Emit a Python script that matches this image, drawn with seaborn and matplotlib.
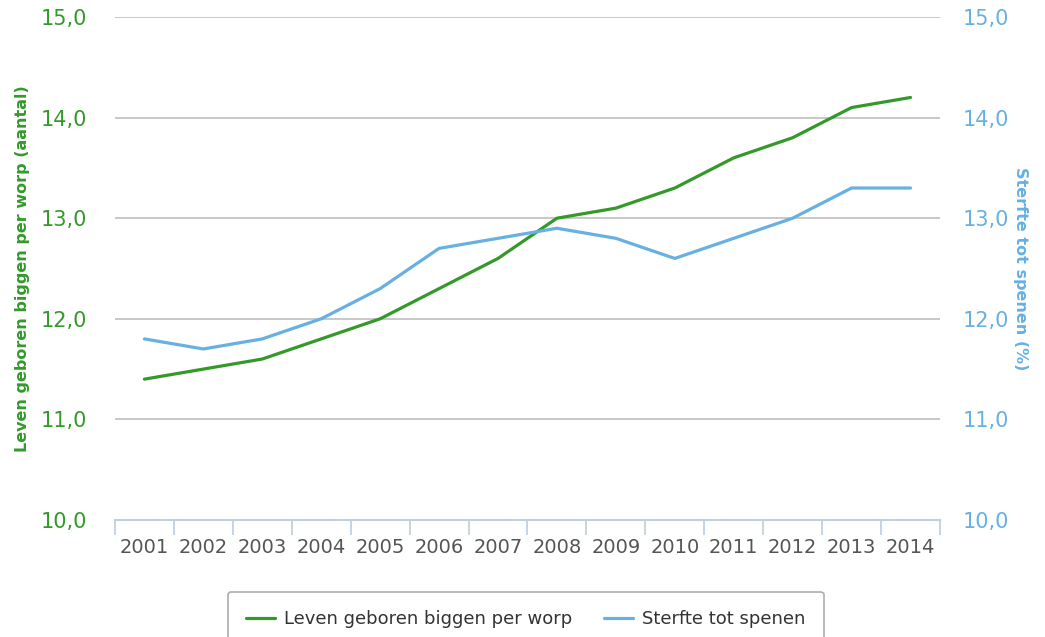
import numpy as np
import pandas as pd
import matplotlib
matplotlib.use("Agg")
import matplotlib.pyplot as plt
import seaborn as sns
from matplotlib.ticker import FixedLocator, FuncFormatter

# Data
years = ["2001", "2002", "2003", "2004", "2005", "2006", "2007",
         "2008", "2009", "2010", "2011", "2012", "2013", "2014"]
levend_geboren = [11.4, 11.5, 11.6, 11.8, 12.0, 12.3, 12.6,
                  13.0, 13.1, 13.3, 13.6, 13.8, 14.1, 14.2]
sterfte_spenen = [11.8, 11.7, 11.8, 12.0, 12.3, 12.7, 12.8,
                  12.9, 12.8, 12.6, 12.8, 13.0, 13.3, 13.3]

green = "#339a2a"
blue = "#66b0e2"
axis_blue = "#c0d0e0"

sns.set_style("white")
plt.rcParams['font.family'] = ['DejaVu Sans']

df = pd.DataFrame({"jaar": years, "levend": levend_geboren, "sterfte": sterfte_spenen})

fig = plt.figure(figsize=(10.45, 6.37), dpi=100)
ax = fig.add_axes([0.110, 0.1837, 0.7895, 0.7896])

sns.lineplot(data=df, x="jaar", y="levend", ax=ax, color=green, linewidth=2.3,
             label="Leven geboren biggen per worp", legend=False, sort=False)
ax2 = ax.twinx()
sns.lineplot(data=df, x="jaar", y="sterfte", ax=ax2, color=blue, linewidth=2.3,
             label="Sterfte tot spenen", legend=False, sort=False)

for a in (ax, ax2):
    a.set_ylim(10, 15)
    a.set_xlim(-0.5, len(years) - 0.5)
    for s in a.spines.values():
        s.set_visible(False)

fmt = FuncFormatter(lambda v, p: f"{v:.1f}".replace(".", ","))
ticks = [10, 11, 12, 13, 14, 15]

ax.yaxis.set_major_locator(FixedLocator(ticks))
ax.yaxis.set_major_formatter(fmt)
ax.tick_params(axis="y", colors=green, labelsize=15, length=0, pad=20)
ax2.yaxis.set_major_locator(FixedLocator(ticks))
ax2.yaxis.set_major_formatter(fmt)
ax2.tick_params(axis="y", colors=blue, labelsize=15, length=0, pad=16)

# grid lines
for t in ticks[1:]:
    ax.axhline(t, color="#c4c4c4", linewidth=1.3, zorder=0)
ax.spines["bottom"].set_visible(True)
ax.spines["bottom"].set_color(axis_blue)
ax.spines["bottom"].set_linewidth(1.5)

# x axis: labels at centres, tick marks at category borders
ax.set_xticks(range(len(years)))
ax.set_xticklabels(years)
ax.set_xticks(np.arange(-0.5, len(years)), minor=True)
ax.tick_params(axis="x", which="major", length=0, labelsize=14, labelcolor="#555555", pad=13)
ax.tick_params(axis="x", which="minor", length=11, width=1.3, color=axis_blue, direction="out")
ax.xaxis.set_ticks_position("bottom")

ax.set_xlabel("")
ax.set_ylabel("Leven geboren biggen per worp (aantal)", color=green, fontsize=11.5,
              fontweight="bold", labelpad=8)
ax2.set_ylabel("Sterfte tot spenen (%)", color=blue, fontsize=11.5, fontweight="bold",
               rotation=270, labelpad=14)

h1, l1 = ax.get_legend_handles_labels()
h2, l2 = ax2.get_legend_handles_labels()
leg = fig.legend(h1 + h2, l1 + l2, loc="upper center", bbox_to_anchor=(0.503, 0.071),
                 ncol=2, fontsize=13, frameon=True, fancybox=True, edgecolor="#999999",
                 handlelength=1.6, handletextpad=0.5, columnspacing=1.8, borderpad=1.0,
                 borderaxespad=0, labelcolor="#333333")
leg.get_frame().set_linewidth(1.2)

fig.savefig("out.png", dpi=100)
